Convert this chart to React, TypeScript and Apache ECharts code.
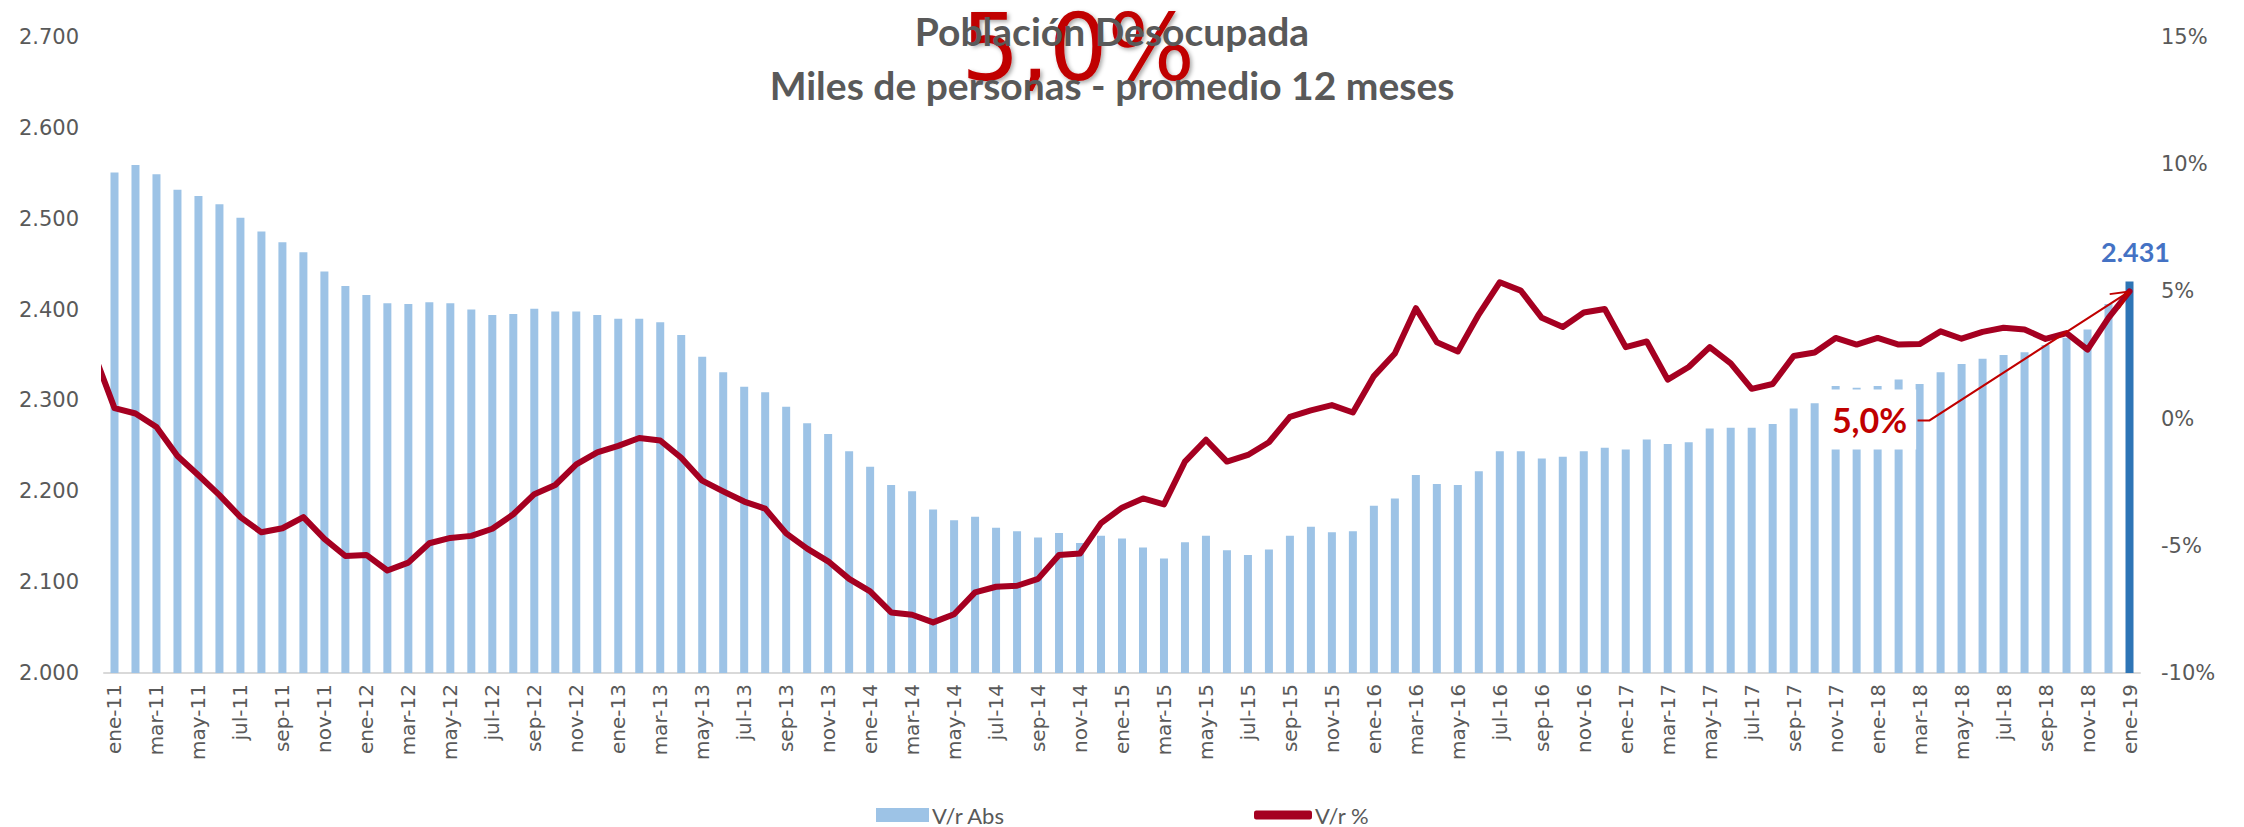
import React, { useEffect, useRef } from 'react';
import * as echarts from 'echarts';

const monthNames = ['ene', 'feb', 'mar', 'abr', 'may', 'jun', 'jul', 'ago', 'sep', 'oct', 'nov', 'dic'];
const years = ['11', '12', '13', '14', '15', '16', '17', '18'];
const categories = [...years.flatMap((y) => monthNames.map((m) => `${m}-${y}`)), 'ene-19'];

// Población desocupada, miles de personas (promedio 12 meses)
const absValues = [
  2551, 2559, 2549, 2532, 2525, 2516, 2501, 2486, 2474, 2463, 2442, 2426,
  2416, 2407, 2406, 2408, 2407, 2400, 2394, 2395, 2401, 2398, 2398, 2394,
  2390, 2390, 2386, 2372, 2348, 2331, 2315, 2309, 2293, 2275, 2263, 2244,
  2227, 2207, 2200, 2180, 2168, 2172, 2160, 2156, 2149, 2154, 2143, 2151,
  2148, 2138, 2126, 2144, 2151, 2135, 2130, 2136, 2151, 2161, 2155, 2156,
  2184, 2192, 2218, 2208, 2207, 2222, 2244, 2244, 2236, 2238, 2244, 2248,
  2246, 2257, 2252, 2254, 2269, 2270, 2270, 2274, 2291, 2297, 2316, 2314,
  2316, 2323, 2318, 2331, 2340, 2346, 2350, 2353, 2361, 2369, 2378, 2406,
  2431,
];

// Variación % interanual; the first value is dic-10 (outside the visible range)
const pctPrevMonth = 2.6;
const pctValues = [
  0.41, 0.2, -0.33, -1.47, -2.23, -3.01, -3.87, -4.47, -4.31, -3.87, -4.73, -5.4,
  -5.36, -5.97, -5.66, -4.9, -4.69, -4.61, -4.33, -3.76, -2.97, -2.61, -1.8, -1.33,
  -1.07, -0.76, -0.86, -1.54, -2.44, -2.86, -3.26, -3.54, -4.51, -5.11, -5.61, -6.3,
  -6.79, -7.62, -7.71, -8.01, -7.69, -6.83, -6.61, -6.57, -6.3, -5.36, -5.3, -4.11,
  -3.5, -3.14, -3.37, -1.69, -0.83, -1.69, -1.43, -0.93, 0.07, 0.32, 0.53, 0.24,
  1.67, 2.56, 4.34, 3.0, 2.64, 4.1, 5.36, 5.03, 3.96, 3.6, 4.17, 4.31,
  2.81, 3.03, 1.53, 2.03, 2.81, 2.17, 1.17, 1.36, 2.46, 2.6, 3.17, 2.91,
  3.17, 2.91, 2.93, 3.43, 3.14, 3.41, 3.57, 3.5, 3.13, 3.36, 2.71, 3.96,
  5.0,
];

const titleLines = ['Población Desocupada', 'Miles de personas - promedio 12 meses'];
const bigLabel = '5,0%';
const calloutLabel = '5,0%';

const fmtThousands = (v: number) => String(Math.round(v)).replace(/\B(?=(\d{3})+(?!\d))/g, '.');

export default function App() {
  const ref = useRef<HTMLDivElement>(null);

  useEffect(() => {
    if (!ref.current) return;
    const chart = echarts.init(ref.current, undefined, { renderer: 'svg' });
    const last = absValues.length - 1;

    const lineData = [[-1, pctPrevMonth], ...pctValues.map((v, i) => [i, v])];

    const axisFont = { fontFamily: 'DejaVu Sans', color: '#595959' };
    const legendText = {
      fontFamily: 'Lato',
      fontSize: 22,
      lineHeight: 22,
      color: '#595959',
      padding: [0, 0, 0, -2],
    };

    const option: any = {
      animation: false,
      backgroundColor: '#ffffff',
      title: {
        text: titleLines.join('\n'),
        left: 1112,
        top: 4,
        padding: 0,
        textAlign: 'center',
        z: 10,
        textStyle: {
          fontFamily: 'Lato',
          fontWeight: 'bold',
          fontSize: 39,
          lineHeight: 54,
          color: '#595959',
        },
      },
      grid: { left: 104, right: 104, top: 37, bottom: 154, containLabel: false },
      legend: [
        {
          data: [{ name: 'V/r Abs', icon: 'rect' }],
          left: 876,
          top: 804,
          padding: 0,
          itemWidth: 53,
          itemHeight: 14,
          textStyle: legendText,
        },
        {
          data: [{ name: 'V/r %', icon: 'roundRect' }],
          left: 1254,
          top: 804,
          padding: 0,
          itemWidth: 58,
          itemHeight: 9,
          textStyle: legendText,
        },
      ],
      xAxis: [
        {
          type: 'category',
          data: categories,
          boundaryGap: true,
          axisLine: { onZero: false, lineStyle: { color: '#d9d9d9', width: 2 } },
          axisTick: { show: false },
          axisLabel: { ...axisFont, interval: 1, rotate: 90, fontSize: 20, margin: 11 },
        },
        { type: 'value', min: -0.5, max: absValues.length - 0.5, show: false },
      ],
      yAxis: [
        {
          type: 'value',
          min: 2000,
          max: 2700,
          interval: 100,
          splitLine: { show: false },
          axisLine: { show: false },
          axisTick: { show: false },
          axisLabel: { ...axisFont, fontSize: 21, margin: 25, formatter: (v: number) => fmtThousands(v) },
        },
        {
          type: 'value',
          min: -10,
          max: 15,
          interval: 5,
          position: 'right',
          splitLine: { show: false },
          axisLine: { show: false },
          axisTick: { show: false },
          axisLabel: { ...axisFont, fontSize: 21, margin: 21, formatter: '{value}%' },
        },
      ],
      series: [
        {
          name: 'V/r Abs',
          type: 'bar',
          barWidth: 8,
          itemStyle: { color: '#9dc3e6' },
          data: absValues.map((v, i) =>
            i === last
              ? {
                  value: v,
                  itemStyle: { color: '#2e75b6' },
                  label: {
                    show: true,
                    position: 'top',
                    distance: 16,
                    offset: [6, 0],
                    formatter: (p: any) => fmtThousands(p.value),
                    fontFamily: 'Lato',
                    fontWeight: 'bold',
                    fontSize: 27,
                    color: '#4472c4',
                  },
                }
              : v
          ),
          z: 2,
        },
        {
          name: 'V/r %',
          type: 'line',
          xAxisIndex: 1,
          yAxisIndex: 1,
          data: lineData,
          symbol: 'none',
          clip: true,
          itemStyle: { color: '#a50021' },
          lineStyle: { color: '#a50021', width: 6, cap: 'round', join: 'round' },
          z: 3,
        },
      ],
      graphic: [
        {
          id: 'big',
          type: 'text',
          x: 1078,
          y: 48,
          z: 1,
          style: {
            text: bigLabel,
            fill: '#c00000',
            fontSize: 92,
            lineHeight: 72,
            fontFamily: 'DejaVu Sans',
            align: 'center',
            verticalAlign: 'middle',
            textShadowColor: 'rgba(0,0,0,0.35)',
            textShadowBlur: 4,
            textShadowOffsetX: 2,
            textShadowOffsetY: 2,
          },
        },
      ],
    };

    chart.setOption(option);

    const tip = chart.convertToPixel({ seriesIndex: 1 }, [last, pctValues[last]]) as number[];
    if (tip && isFinite(tip[0])) {
      const [tx, ty] = tip;
      const sx = tx - 200;
      const sy = ty + 129;
      const dx = tx - sx;
      const dy = ty - sy;
      const len = Math.hypot(dx, dy);
      const bx = -dx / len;
      const by = -dy / len;
      const a = (25 * Math.PI) / 180;
      const hl = 20;
      const h1 = [tx + hl * (bx * Math.cos(a) - by * Math.sin(a)), ty + hl * (bx * Math.sin(a) + by * Math.cos(a))];
      const h2 = [tx + hl * (bx * Math.cos(a) + by * Math.sin(a)), ty + hl * (-bx * Math.sin(a) + by * Math.cos(a))];
      chart.setOption({
        graphic: [
          { id: 'big' },
          {
            id: 'callout',
            type: 'text',
            x: tx - 260,
            y: ty + 128,
            z: 20,
            style: {
              text: calloutLabel,
              fill: '#c00000',
              fontSize: 34,
              fontWeight: 'bold',
              fontFamily: 'Lato',
              align: 'center',
              verticalAlign: 'middle',
              backgroundColor: '#ffffff',
              padding: [14, 9, 12, 9],
            },
          },
          {
            id: 'leader',
            type: 'polyline',
            z: 19,
            shape: { points: [[tx - 212, sy], [sx, sy], [tx, ty]] },
            style: { stroke: '#c00000', lineWidth: 2, fill: null },
          },
          {
            id: 'head1',
            type: 'line',
            z: 19,
            shape: { x1: tx, y1: ty, x2: h1[0], y2: h1[1] },
            style: { stroke: '#c00000', lineWidth: 2 },
          },
          {
            id: 'head2',
            type: 'line',
            z: 19,
            shape: { x1: tx, y1: ty, x2: h2[0], y2: h2[1] },
            style: { stroke: '#c00000', lineWidth: 2 },
          },
        ],
      });
    }

    return () => chart.dispose();
  }, []);

  return (
    <div
      ref={ref}
      style={{ position: 'absolute', left: 0, top: 0, width: 2244, height: 827, background: '#fff' }}
    />
  );
}
